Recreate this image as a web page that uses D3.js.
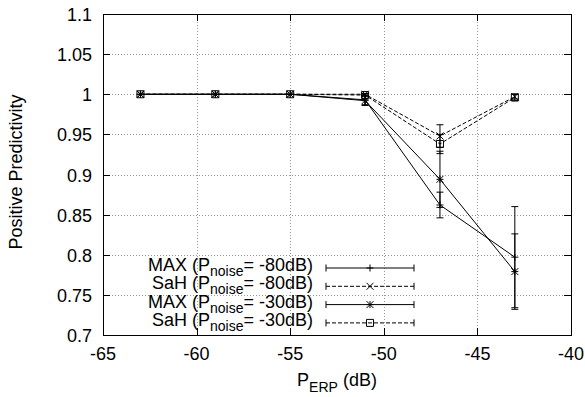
<!DOCTYPE html>
<html>
<head>
<meta charset="utf-8">
<script src="https://cdn.jsdelivr.net/npm/d3@7"></script>
<style>
  html, body { margin: 0; padding: 0; background: #fff; }
  svg { display: block; font-family: 'Liberation Sans', Arial, sans-serif; }
</style>
</head>
<body>
<div id="chart"></div>
<script>
// data
const xValues = [-63, -59, -55, -51, -47, -43]
const xTicks = [-65, -60, -55, -50, -45, -40]
const yTicks = [0.7, 0.75, 0.8, 0.85, 0.9, 0.95, 1, 1.05, 1.1]

const maxNoise80 = [1, 1, 1, 0.993, 0.862, 0.797]
const maxNoise80Err = [0, 0, 0, 0.006, 0.016, 0.063]
const sahNoise80 = [1, 1, 1, 1, 0.948, 0.997]
const sahNoise80Err = [0, 0, 0, 0.001, 0.014, 0.003]
const maxNoise30 = [1, 1, 1, 0.992, 0.894, 0.779]
const maxNoise30Err = [0, 0, 0, 0.006, 0.035, 0.047]
const sahNoise30 = [1, 1, 1, 0.999, 0.938, 0.996]
const sahNoise30Err = [0, 0, 0, 0.002, 0.012, 0.004]

const seriesNames = ['MAX', 'SaH', 'MAX', 'SaH']
const seriesNoise = ['-80dB', '-80dB', '-30dB', '-30dB']

const series = [
  { name: seriesNames[0], noise: seriesNoise[0], values: maxNoise80, errors: maxNoise80Err, marker: 'plus', dash: null },
  { name: seriesNames[1], noise: seriesNoise[1], values: sahNoise80, errors: sahNoise80Err, marker: 'cross', dash: '4,2' },
  { name: seriesNames[2], noise: seriesNoise[2], values: maxNoise30, errors: maxNoise30Err, marker: 'star', dash: null },
  { name: seriesNames[3], noise: seriesNoise[3], values: sahNoise30, errors: sahNoise30Err, marker: 'square', dash: '4,2' }
]

const width = 585
const height = 397
const margins = { left: 103, right: 14, top: 14, bottom: 62 }
const FONT = '18px'
const SUB = '14px'
const TICK = 7
const CAP = 3.5
const PT = 3.5

const xScale = d3.scaleLinear()
  .domain([-65, -40])
  .range([margins.left, width - margins.right])

const yScale = d3.scaleLinear()
  .domain([0.7, 1.1])
  .range([height - margins.bottom, margins.top])

const svg = d3.select('#chart').append('svg')
  .attr('width', width)
  .attr('height', height)
  .attr('viewBox', [0, 0, width, height].join(' '))

const x0 = xScale.range()[0]
const x1 = xScale.range()[1]
const y0 = yScale.range()[0]
const y1 = yScale.range()[1]

// grid
const grid = svg.append('g')
  .attr('stroke', '#999')
  .attr('stroke-width', 1)
  .attr('stroke-dasharray', '1,2')

grid.selectAll('.gx')
  .data(xTicks.slice(1, -1))
  .enter().append('line')
  .attr('x1', d => Math.round(xScale(d)) + 0.5).attr('x2', d => Math.round(xScale(d)) + 0.5)
  .attr('y1', y0).attr('y2', y1)

grid.selectAll('.gy')
  .data(yTicks.slice(1, -1))
  .enter().append('line')
  .attr('x1', x0).attr('x2', x1)
  .attr('y1', d => Math.round(yScale(d)) + 0.5).attr('y2', d => Math.round(yScale(d)) + 0.5)

// mirrored inward ticks
const ticks = svg.append('g').attr('stroke', '#000').attr('stroke-width', 1)
xTicks.forEach(t => {
  const x = Math.round(xScale(t)) + 0.5
  ticks.append('line').attr('x1', x).attr('x2', x).attr('y1', y0).attr('y2', y0 - TICK)
  ticks.append('line').attr('x1', x).attr('x2', x).attr('y1', y1).attr('y2', y1 + TICK)
})
yTicks.forEach(t => {
  const y = Math.round(yScale(t)) + 0.5
  ticks.append('line').attr('x1', x0).attr('x2', x0 + TICK).attr('y1', y).attr('y2', y)
  ticks.append('line').attr('x1', x1).attr('x2', x1 - TICK).attr('y1', y).attr('y2', y)
})

// tick labels
svg.append('g')
  .selectAll('text')
  .data(xTicks)
  .enter().append('text')
  .attr('x', d => xScale(d))
  .attr('y', y0 + 25)
  .attr('text-anchor', 'middle')
  .style('font-size', FONT)
  .text(d => d)

svg.append('g')
  .selectAll('text')
  .data(yTicks)
  .enter().append('text')
  .attr('x', x0 - 11)
  .attr('y', d => yScale(d) + 7)
  .attr('text-anchor', 'end')
  .style('font-size', FONT)
  .text(d => d3.format('~g')(d))

// axis titles
const xTitle = svg.append('text')
  .attr('x', (x0 + x1) / 2)
  .attr('y', 386)
  .attr('text-anchor', 'middle')
  .style('font-size', FONT)
xTitle.append('tspan').text('P')
xTitle.append('tspan').attr('dy', 6).style('font-size', SUB).text('ERP')
xTitle.append('tspan').attr('dy', -6).text(' (dB)')

svg.append('text')
  .attr('transform', 'translate(22, 172) rotate(-90)')
  .attr('text-anchor', 'middle')
  .style('font-size', FONT)
  .text('Positive Predictivity')

// markers
const drawMarker = (g, type, cx, cy) => {
  const p = (d) => g.append('path').attr('d', d).attr('fill', 'none').attr('stroke', '#000').attr('stroke-width', 1)
  const plus = `M${cx - PT},${cy}H${cx + PT}M${cx},${cy - PT}V${cy + PT}`
  const cross = `M${cx - PT},${cy - PT}L${cx + PT},${cy + PT}M${cx - PT},${cy + PT}L${cx + PT},${cy - PT}`
  if (type === 'plus') p(plus)
  if (type === 'cross') p(cross)
  if (type === 'star') p(plus + cross)
  if (type === 'square') p(`M${cx - PT},${cy - PT}h${2 * PT}v${2 * PT}h${-2 * PT}Z`)
}

// series
const line = d3.line()
  .x(d => xScale(d[0]))
  .y(d => yScale(d[1]))

series.forEach(s => {
  const g = svg.append('g')
  const pts = xValues.map((x, i) => [x, s.values[i], s.errors[i]])

  g.append('path')
    .datum(pts)
    .attr('d', line)
    .attr('fill', 'none')
    .attr('stroke', '#000')
    .attr('stroke-width', 1)
    .attr('stroke-dasharray', s.dash)

  pts.filter(d => d[2] > 0).forEach(d => {
    const cx = xScale(d[0])
    const lo = yScale(d[1] - d[2])
    const hi = yScale(d[1] + d[2])
    g.append('path')
      .attr('d', `M${cx},${lo}V${hi}M${cx - CAP},${lo}H${cx + CAP}M${cx - CAP},${hi}H${cx + CAP}`)
      .attr('fill', 'none')
      .attr('stroke', '#000')
      .attr('stroke-width', 1)
  })

  pts.forEach(d => drawMarker(g, s.marker, xScale(d[0]), yScale(d[1])))
})

// legend
const legendRight = 313
const sampleX1 = 326
const sampleX2 = 414
const rowBase = 271
const rowGap = 18.3

series.forEach((s, i) => {
  const base = rowBase + i * rowGap
  const t = svg.append('text')
    .attr('x', legendRight)
    .attr('y', base)
    .attr('text-anchor', 'end')
    .style('font-size', FONT)
  t.append('tspan').text(`${s.name} (P`)
  t.append('tspan').attr('dy', 5).style('font-size', SUB).text('noise')
  t.append('tspan').attr('dy', -5).text(`= ${s.noise})`)

  const cy = base - 3
  const g = svg.append('g')
  g.append('line')
    .attr('x1', sampleX1).attr('x2', sampleX2)
    .attr('y1', cy).attr('y2', cy)
    .attr('stroke', '#000')
    .attr('stroke-width', 1)
    .attr('stroke-dasharray', s.dash)
  g.append('path')
    .attr('d', `M${sampleX1},${cy - CAP}V${cy + CAP}M${sampleX2},${cy - CAP}V${cy + CAP}`)
    .attr('stroke', '#000')
    .attr('stroke-width', 1)
  drawMarker(g, s.marker, (sampleX1 + sampleX2) / 2, cy)
})

// border
svg.append('rect')
  .attr('x', x0 + 0.5)
  .attr('y', y1 + 0.5)
  .attr('width', x1 - x0)
  .attr('height', y0 - y1)
  .attr('fill', 'none')
  .attr('stroke', '#000')
  .attr('stroke-width', 1)
</script>
</body>
</html>
